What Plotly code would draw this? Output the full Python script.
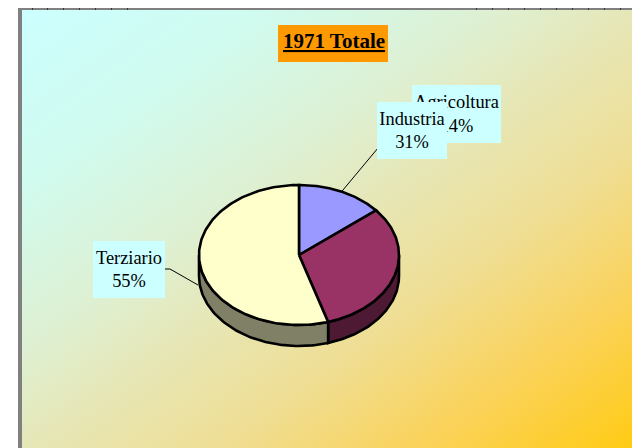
import math
import urllib.parse
import numpy as np
import plotly.graph_objects as go

# ---- data ----
categories = ["Agricoltura", "Industria", "Terziario"]
values = [14.0, 31.3, 54.7]
percent_labels = ["14%", "31%", "55%"]
title_text = "1971 Totale"

top_colors = ["#9999FF", "#993366", "#FFFFCC"]
side_colors = ["#4D4D80", "#4D1933", "#808066"]

W, H = 632, 448
CX, CY, RX, RY, DEPTH = 299, 255, 100, 70, 21

total = sum(values)
fractions = np.cumsum([0] + values) / total * 2 * math.pi


def ellipse(t, dy=0):
    return CX + RX * np.sin(t), CY - RY * np.cos(t) + dy


fig = go.Figure()
line_style = dict(color="black", width=2.6)

# side wall: only the front half of the ellipse is visible
for i in range(len(values)):
    a, b = max(fractions[i], math.pi / 2), min(fractions[i + 1], 3 * math.pi / 2)
    if b <= a:
        continue
    t = np.linspace(a, b, 80)
    x1, y1 = ellipse(t)
    x2, y2 = ellipse(t[::-1], DEPTH)
    fig.add_trace(go.Scatter(
        x=np.r_[x1, x2, x1[0]], y=np.r_[y1, y2, y1[0]], mode="lines",
        fill="toself", fillcolor=side_colors[i], line=line_style,
        hoverinfo="skip", showlegend=False))

# top surface
for i, cat in enumerate(categories):
    t = np.linspace(fractions[i], fractions[i + 1], 160)
    x, y = ellipse(t)
    fig.add_trace(go.Scatter(
        x=np.r_[CX, x, CX], y=np.r_[CY, y, CY], mode="lines", name=cat,
        fill="toself", fillcolor=top_colors[i], line=line_style,
        hoverinfo="skip", showlegend=False))

# leader lines
lx, ly = ellipse((fractions[0] + fractions[1]) / 2)
fig.add_trace(go.Scatter(x=[lx, 378], y=[ly, 148], mode="lines",
                         line=dict(color="black", width=1),
                         hoverinfo="skip", showlegend=False))
fig.add_trace(go.Scatter(x=[198, 170, 165], y=[285, 269, 269], mode="lines",
                         line=dict(color="black", width=1),
                         hoverinfo="skip", showlegend=False))

FONT = "Liberation Serif, Times New Roman, serif"


def box_label(text, x0, x1, y0, y1, bg, size=18.4):
    return dict(
        x=(x0 + x1) / 2, y=(y0 + y1) / 2, xref="x", yref="y", text=text,
        showarrow=False, xanchor="center", yanchor="middle", align="center",
        width=x1 - x0, height=y1 - y0, bgcolor=bg,
        borderpad=0, borderwidth=0,
        font=dict(family=FONT, size=size, color="black"))


annotations = [
    box_label(f"{categories[0]}<br>{percent_labels[0]}", 412, 501, 85, 143, "#CCFFFF"),
    box_label(f"{categories[1]}<br>{percent_labels[1]}", 377, 447, 102, 159, "#CCFFFF"),
    box_label(f"{categories[2]}<br>{percent_labels[2]}", 93, 165, 241, 298, "#CCFFFF"),
    dict(x=334, y=41, xref="x", yref="y", text=f"<b><u>{title_text}</u></b>",
         showarrow=False, xanchor="center", yanchor="middle", align="center",
         font=dict(family=FONT, size=21, color="black")),
]

svg = (
    '<svg xmlns="http://www.w3.org/2000/svg" width="610" height="438" preserveAspectRatio="none">'
    '<defs><linearGradient id="g" x1="0" y1="0" x2="1" y2="1">'
    '<stop offset="0" stop-color="#CCFFFF"/>'
    '<stop offset="0.2" stop-color="#D0FBEF"/>'
    '<stop offset="0.39" stop-color="#DEF0D2"/>'
    '<stop offset="0.5" stop-color="#E6E7B8"/>'
    '<stop offset="0.66" stop-color="#EFDE94"/>'
    '<stop offset="0.83" stop-color="#FBD258"/>'
    '<stop offset="1" stop-color="#FFCB14"/>'
    '</linearGradient></defs><rect width="610" height="438" fill="url(#g)"/></svg>'
)
bg_uri = "data:image/svg+xml;charset=utf-8," + urllib.parse.quote(svg)

shapes = [
    dict(type="rect", xref="x", yref="y", x0=18, x1=22, y0=8, y1=H,
         fillcolor="#808080", line_width=0, layer="below"),
    dict(type="rect", xref="x", yref="y", x0=18, x1=W, y0=8, y1=10,
         fillcolor="#808080", line_width=0, layer="below"),
    dict(type="rect", xref="x", yref="y", x0=278, x1=388, y0=25, y1=62,
         fillcolor="#FF9900", line_width=0, layer="above"),
]
tick_positions = [32, 47, 63, 79, 95, 111, 127, 476, 492, 508, 524, 540, 556, 572, 588, 604, 620]
for k in tick_positions:
    shapes.append(dict(type="line", xref="x", yref="y", x0=k + .5, x1=k + .5, y0=8, y1=10,
                       line=dict(color="#333333", width=1), layer="below"))

fig.update_layout(
    width=W, height=H, margin=dict(l=0, r=0, t=0, b=0),
    paper_bgcolor="white", plot_bgcolor="rgba(0,0,0,0)", showlegend=False,
    xaxis=dict(range=[0, W], visible=False, fixedrange=True),
    yaxis=dict(range=[H, 0], visible=False, fixedrange=True),
    annotations=annotations, shapes=shapes,
    images=[dict(source=bg_uri, xref="x", yref="y", x=22, y=10, sizex=610, sizey=438,
                 sizing="stretch", xanchor="left", yanchor="top", layer="below")],
)

fig.write_html("out.html", config={"displayModeBar": False},
               post_script="document.body.style.margin='0';document.body.style.overflow='hidden';")
